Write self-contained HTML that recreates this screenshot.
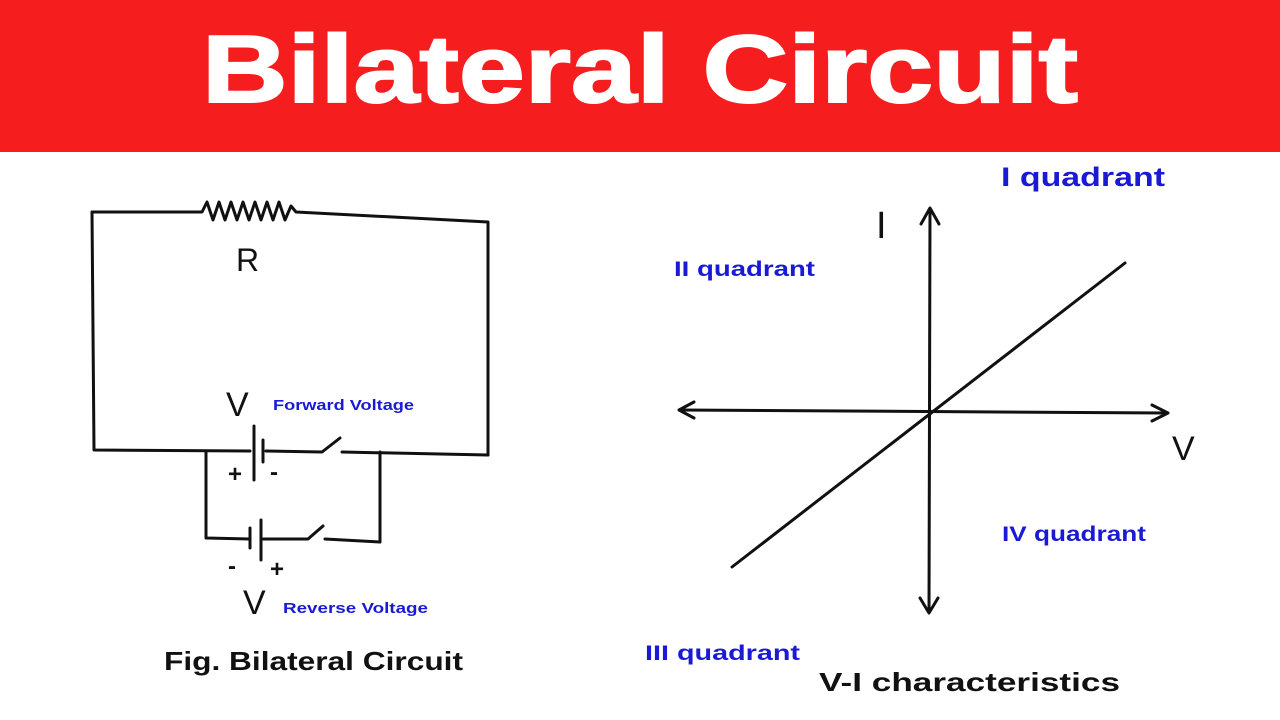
<!DOCTYPE html>
<html><head><style>
body{margin:0;width:1280px;height:720px;overflow:hidden;background:#fff;}
svg{display:block}
</style></head><body>
<svg width="1280" height="720" viewBox="0 0 1280 720" xmlns="http://www.w3.org/2000/svg">
<rect x="0" y="0" width="1280" height="152" fill="#f61d1f"/>
<text x="640" y="102" text-anchor="middle" font-family="Liberation Sans, sans-serif" font-weight="bold" font-size="96" fill="#fff" textLength="876" lengthAdjust="spacingAndGlyphs" stroke="#fff" stroke-width="2">Bilateral Circuit</text>
<g stroke="#111" stroke-width="3" fill="none" stroke-linecap="round" stroke-linejoin="round">
<polyline points="92,212 202,212 207,202 213,220 219,202 225,220 231,202 237,220 243,202 249,220 255,202 261,220 267,202 273,220 279,202 285,220 291,206 296,212 488,222 488,455"/>
<polyline points="92,212 94,450 250,451"/>
<line x1="254" y1="426" x2="254" y2="480"/>
<line x1="263" y1="440" x2="263" y2="462"/>
<polyline points="266,451 322,452 340,438"/>
<polyline points="342,452 488,455"/>
<polyline points="206,451 206,538 250,539"/>
<line x1="250" y1="528" x2="250" y2="548"/>
<line x1="261" y1="520" x2="261" y2="560"/>
<polyline points="263,539 308,539 323,526"/>
<polyline points="325,539 380,542 380,452"/>
<line x1="930" y1="210" x2="929" y2="612"/>
<polyline points="921,224 930,208 939,224"/>
<polyline points="920,598 929,613 938,598"/>
<line x1="680" y1="410" x2="1167" y2="413"/>
<polyline points="694,402 679,410 694,418"/>
<polyline points="1152,405 1168,413 1152,421"/>
<line x1="732" y1="567" x2="1125" y2="263"/>
</g>
<g font-family="Liberation Sans, sans-serif" fill="#111">
<text x="236" y="271" font-size="32">R</text>
<text x="226" y="416" font-size="34">V</text>
<text x="228" y="482" font-size="24" font-weight="bold">+</text>
<text x="270" y="480" font-size="24" font-weight="bold">-</text>
<text x="228" y="574" font-size="24" font-weight="bold">-</text>
<text x="270" y="577" font-size="24" font-weight="bold">+</text>
<text x="243" y="614" font-size="34">V</text>
<text x="876" y="238" font-size="38">I</text>
<text x="1172" y="460" font-size="34">V</text>
<text x="164" y="670" font-size="26" font-weight="bold" textLength="299" lengthAdjust="spacingAndGlyphs">Fig. Bilateral Circuit</text>
<text x="819" y="691" font-size="26" font-weight="bold" textLength="301" lengthAdjust="spacingAndGlyphs">V-I characteristics</text>
</g>
<g font-family="Liberation Sans, sans-serif" fill="#1a1ad6" font-weight="bold">
<text x="273" y="410" font-size="15" textLength="141" lengthAdjust="spacingAndGlyphs">Forward Voltage</text>
<text x="283" y="613" font-size="15" textLength="145" lengthAdjust="spacingAndGlyphs">Reverse  Voltage</text>
<text x="1001" y="186" font-size="27" textLength="164" lengthAdjust="spacingAndGlyphs">I quadrant</text>
<text x="674" y="276" font-size="21" textLength="141" lengthAdjust="spacingAndGlyphs">II quadrant</text>
<text x="1002" y="541" font-size="21" textLength="144" lengthAdjust="spacingAndGlyphs">IV quadrant</text>
<text x="645" y="660" font-size="21" textLength="155" lengthAdjust="spacingAndGlyphs">III quadrant</text>
</g>
</svg>
</body></html>
